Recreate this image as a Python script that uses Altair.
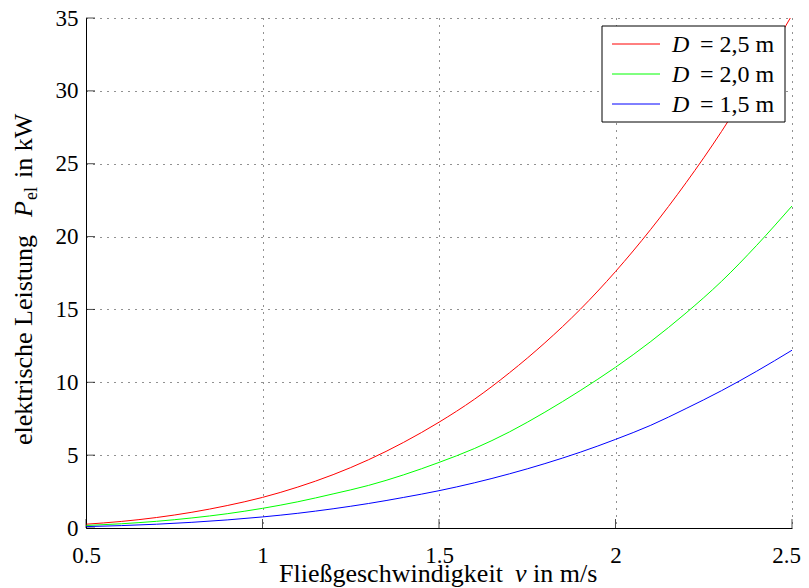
import altair as alt
import pandas as pd

# ---- data ----
v_values = [0.5, 0.6, 0.7, 0.8, 0.9, 1.0, 1.1, 1.2, 1.3, 1.4, 1.5,
            1.6, 1.7, 1.8, 1.9, 2.0, 2.1, 2.2, 2.3, 2.4, 2.5]
p_d25 = [0.26, 0.45, 0.72, 1.08, 1.54, 2.10, 2.81, 3.66, 4.68, 5.88, 7.26,
         8.83, 10.66, 12.71, 15.0, 17.6, 20.5, 23.7, 27.2, 31.1, 35.2]
p_d20 = [0.17, 0.29, 0.46, 0.69, 0.98, 1.35, 1.80, 2.34, 2.92, 3.65, 4.50,
         5.45, 6.60, 7.95, 9.43, 11.03, 12.80, 14.76, 16.92, 19.4, 22.1]
p_d15 = [0.095, 0.165, 0.26, 0.39, 0.555, 0.76, 1.01, 1.32, 1.68, 2.10, 2.56,
         3.10, 3.72, 4.42, 5.20, 6.08, 7.05, 8.20, 9.42, 10.76, 12.2]

series_names = ["D = 2,5 m", "D = 2,0 m", "D = 1,5 m"]
legend_values = ["= 2,5 m", "= 2,0 m", "= 1,5 m"]
series_colors = ["#ff0000", "#00ff00", "#0000ff"]

x_ticks = [0.5, 1.0, 1.5, 2.0, 2.5]
y_ticks = [0, 5, 10, 15, 20, 25, 30, 35]

FONT = "Liberation Serif"
W, H = 706, 510

rows = []
for name, vals in zip(series_names, [p_d25, p_d20, p_d15]):
    for v, p in zip(v_values, vals):
        rows.append({"v": v, "P": p, "series": name})
df = pd.DataFrame(rows)

xscale = alt.Scale(domain=[0.5, 2.5], nice=False, zero=False)
yscale = alt.Scale(domain=[0, 35], nice=False, zero=False)

grid_kw = dict(grid=True, gridColor="#222222", gridDash=[1, 6], gridWidth=1,
               tickSize=0, domainColor="black", domainWidth=1,
               labelFont=FONT, labelFontSize=23, labelColor="black",
               labelFlush=False, labelOverlap=False, title=None)

lines = alt.Chart(df).mark_line(strokeWidth=1, clip=True, interpolate="monotone").encode(
    x=alt.X("v:Q", scale=xscale,
            axis=alt.Axis(values=x_ticks, format="~g", labelPadding=16,
                          labelOffset={"condition": {"test": "datum.value >= 2.5", "value": -6},
                                       "value": 0},
                          **grid_kw)),
    y=alt.Y("P:Q", scale=yscale,
            axis=alt.Axis(values=y_ticks, format="d", labelPadding=8, **grid_kw)),
    color=alt.Color("series:N", scale=alt.Scale(domain=series_names, range=series_colors),
                    legend=None),
)

xt = alt.Chart(pd.DataFrame({"t": x_ticks})).mark_tick(
    color="black", thickness=1, size=9, orient="vertical").encode(
    x=alt.X("t:Q", scale=xscale), y=alt.value(H - 4.5))
yt = alt.Chart(pd.DataFrame({"t": y_ticks})).mark_tick(
    color="black", thickness=1, size=9, orient="horizontal").encode(
    y=alt.Y("t:Q", scale=yscale), x=alt.value(4.5))

one = pd.DataFrame({"a": [0]})

def txt(text, x, y, size=26, style="normal", angle=0, align="left"):
    return alt.Chart(one).mark_text(
        text=text, font=FONT, fontSize=size, fontStyle=style, color="black",
        align=align, baseline="alphabetic", angle=angle).encode(
        x=alt.value(x), y=alt.value(y))

# legend
leg_box = alt.Chart(one).mark_rect(fill="white", stroke="black", strokeWidth=1).encode(
    x=alt.value(516), x2=alt.value(699), y=alt.value(8), y2=alt.value(104))
legend_layers = [leg_box]
for i, (lab, col) in enumerate(zip(legend_values, series_colors)):
    yy = 26 + 30 * i
    legend_layers.append(alt.Chart(one).mark_rule(color=col, strokeWidth=1).encode(
        x=alt.value(526), x2=alt.value(574), y=alt.value(yy)))
    legend_layers.append(txt("D", 586, yy + 8, size=24, style="italic"))
    legend_layers.append(txt(lab, 614, yy + 8, size=24))

# axis titles
titles = [
    txt("Fließgeschwindigkeit", 193, 564),
    txt("v", 429, 564, style="italic"),
    txt("in m/s", 447, 564),
    txt("elektrische Leistung", -54, 427, angle=270),
    txt("P", -54, 199, style="italic", angle=270),
    txt("el", -49, 182, size=18, angle=270),
    txt("in kW", -54, 160, angle=270),
]

chart = alt.layer(lines, xt, yt, *legend_layers, *titles).properties(
    width=W, height=H,
    padding={"left": 78, "top": 10, "right": 9, "bottom": 60},
    autosize=alt.AutoSizeParams(type="none"),
).configure(font=FONT).configure_view(stroke=None).configure_axis(labelFont=FONT)

chart.save("out.html", embed_options={"renderer": "svg", "actions": False})
